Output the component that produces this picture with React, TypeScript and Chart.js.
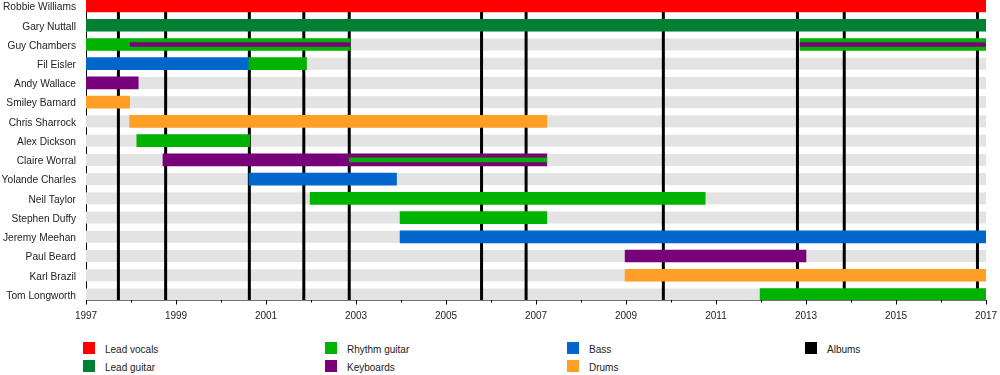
import React, { useEffect, useRef } from 'react';
import { Chart, registerables } from 'chart.js';

Chart.register(...registerables);

const FONT = '"Liberation Sans", Arial, sans-serif';

// Band members (top to bottom)
const members: string[] = [
  'Robbie Williams', 'Gary Nuttall', 'Guy Chambers', 'Fil Eisler', 'Andy Wallace',
  'Smiley Barnard', 'Chris Sharrock', 'Alex Dickson', 'Claire Worral', 'Yolande Charles',
  'Neil Taylor', 'Stephen Duffy', 'Jeremy Meehan', 'Paul Beard', 'Karl Brazil', 'Tom Longworth',
];

// Spans per role: [member, from, to]
type Span = [string, number, number];
const leadVocals: Span[] = [['Robbie Williams', 1997, 2017]];
const leadGuitar: Span[] = [['Gary Nuttall', 1997, 2017]];
const rhythmGuitar: Span[] = [
  ['Guy Chambers', 1997, 2002.87], ['Guy Chambers', 2012.87, 2017],
  ['Fil Eisler', 2000.62, 2001.9], ['Alex Dickson', 1998.13, 2000.64],
  ['Neil Taylor', 2001.98, 2010.76], ['Stephen Duffy', 2003.98, 2007.24],
  ['Tom Longworth', 2011.98, 2017],
];
const keyboards: Span[] = [
  ['Andy Wallace', 1997, 1998.16], ['Claire Worral', 1998.71, 2007.24], ['Paul Beard', 2008.98, 2013.0],
];
const bass: Span[] = [
  ['Fil Eisler', 1997, 2000.62], ['Yolande Charles', 2000.62, 2003.9], ['Jeremy Meehan', 2003.98, 2017],
];
const drums: Span[] = [
  ['Smiley Barnard', 1997, 1997.97], ['Chris Sharrock', 1997.97, 2007.24], ['Karl Brazil', 2008.98, 2017],
];
// Secondary roles (thin inner bars)
const keyboardsSecondary: Span[] = [['Guy Chambers', 1997.98, 2002.87], ['Guy Chambers', 2012.87, 2017]];
const rhythmGuitarSecondary: Span[] = [['Claire Worral', 2002.85, 2007.24]];

// Album release dates
const albums: number[] = [1997.72, 1998.77, 2000.63, 2001.84, 2002.85, 2005.79, 2006.78, 2009.83, 2012.81, 2013.85, 2016.81];

// Axis ticks
const yearTicks: number[] = [1997, 1998, 1999, 2000, 2001, 2002, 2003, 2004, 2005, 2006, 2007, 2008, 2009, 2010, 2011, 2012, 2013, 2014, 2015, 2016, 2017];
const yearLabels: number[] = [1997, 1999, 2001, 2003, 2005, 2007, 2009, 2011, 2013, 2015, 2017];

const COLORS = {
  leadVocals: '#ff0000',
  leadGuitar: '#008033',
  rhythmGuitar: '#00b300',
  keyboards: '#780078',
  bass: '#0066cc',
  drums: '#ff9f26',
  albums: '#000000',
  stripe: '#e3e3e3',
};

const legendItems: { label: string; color: string; col: number; row: number }[] = [
  { label: 'Lead vocals', color: COLORS.leadVocals, col: 0, row: 0 },
  { label: 'Lead guitar', color: COLORS.leadGuitar, col: 0, row: 1 },
  { label: 'Rhythm guitar', color: COLORS.rhythmGuitar, col: 1, row: 0 },
  { label: 'Keyboards', color: COLORS.keyboards, col: 1, row: 1 },
  { label: 'Bass', color: COLORS.bass, col: 2, row: 0 },
  { label: 'Drums', color: COLORS.drums, col: 2, row: 1 },
  { label: 'Albums', color: COLORS.albums, col: 3, row: 0 },
];

const toPoints = (spans: Span[]) => spans.map(([m, a, b]) => ({ x: [a, b], y: members.indexOf(m) }));

const backgroundPlugin = {
  id: 'bgStripesAlbums',
  beforeDatasetsDraw(chart: any) {
    const { ctx, chartArea, scales } = chart;
    const xs = scales.x;
    const ys = scales.y;
    ctx.save();
    ctx.fillStyle = COLORS.stripe;
    members.forEach((_, i) => {
      const yc = ys.getPixelForValue(i);
      ctx.fillRect(chartArea.left, yc - 6, chartArea.right - chartArea.left, 12);
    });
    ctx.strokeStyle = COLORS.albums;
    ctx.lineWidth = 3;
    albums.forEach((a) => {
      const x = xs.getPixelForValue(a);
      ctx.beginPath();
      ctx.moveTo(x, chartArea.top);
      ctx.lineTo(x, chartArea.bottom);
      ctx.stroke();
    });
    ctx.restore();
  },
  afterDraw(chart: any) {
    const { ctx, chartArea, scales } = chart;
    const xs = scales.x;
    ctx.save();
    ctx.strokeStyle = '#000';
    ctx.lineWidth = 1;
    yearTicks.forEach((t) => {
      const x = Math.round(xs.getPixelForValue(t)) + 0.5;
      const len = yearLabels.includes(t) ? 4 : 2;
      ctx.beginPath();
      ctx.moveTo(x, chartArea.bottom);
      ctx.lineTo(x, chartArea.bottom + len + 0.5);
      ctx.stroke();
    });
    ctx.restore();
  },
};

export default function App() {
  const canvasRef = useRef<HTMLCanvasElement | null>(null);

  useEffect(() => {
    if (!canvasRef.current) return;
    const bar = (data: Span[], color: string, thickness: number) => ({
      data: toPoints(data),
      backgroundColor: color,
      borderWidth: 0,
      barThickness: thickness,
      grouped: false,
    });
    const chart = new Chart(canvasRef.current, {
      type: 'bar',
      data: {
        datasets: [
          { label: 'Keyboards (secondary)', ...bar(keyboardsSecondary, COLORS.keyboards, 4) },
          { label: 'Rhythm guitar (secondary)', ...bar(rhythmGuitarSecondary, COLORS.rhythmGuitar, 4) },
          { label: 'Lead vocals', ...bar(leadVocals, COLORS.leadVocals, 12) },
          { label: 'Lead guitar', ...bar(leadGuitar, COLORS.leadGuitar, 12) },
          { label: 'Rhythm guitar', ...bar(rhythmGuitar, COLORS.rhythmGuitar, 12) },
          { label: 'Keyboards', ...bar(keyboards, COLORS.keyboards, 12) },
          { label: 'Bass', ...bar(bass, COLORS.bass, 12) },
          { label: 'Drums', ...bar(drums, COLORS.drums, 12) },
        ] as any,
      },
      options: {
        indexAxis: 'y',
        animation: false,
        responsive: true,
        maintainAspectRatio: false,
        devicePixelRatio: 1,
        layout: { padding: { left: 0, right: 14, top: 0, bottom: 0 } },
        plugins: { legend: { display: false }, tooltip: { enabled: false } },
        scales: {
          x: {
            type: 'linear',
            min: 1997,
            max: 2017,
            offset: false,
            afterBuildTicks: (s: any) => { s.ticks = yearTicks.map((v) => ({ value: v })); },
            ticks: {
              autoSkip: false,
              maxRotation: 0,
              padding: 10,
              color: '#222',
              font: { family: FONT, size: 10 },
              callback: (v: any) => (yearLabels.includes(Number(v)) ? String(v) : ''),
            },
            grid: { drawOnChartArea: false, drawTicks: false, offset: false },
            border: { display: true, color: '#000', width: 1 },
            afterFit: (s: any) => { s.height = 25; s.paddingLeft = 0; s.paddingRight = 0; },
          },
          y: {
            type: 'linear',
            reverse: true,
            offset: false,
            min: -0.312,
            max: 15.286,
            afterBuildTicks: (s: any) => { s.ticks = members.map((_, i) => ({ value: i })); },
            ticks: {
              autoSkip: false,
              padding: 10,
              labelOffset: 1.5,
              color: '#222',
              font: { family: FONT, size: 10.2 },
              callback: (v: any) => members[Number(v)] ?? '',
            },
            grid: { drawOnChartArea: false, drawTicks: false, offset: false },
            border: { display: true, color: '#000', width: 1 },
            afterFit: (s: any) => { s.width = 86; s.paddingTop = 0; s.paddingBottom = 0; },
          },
        },
      } as any,
      plugins: [backgroundPlugin],
    });
    return () => chart.destroy();
  }, []);

  const colX = [83, 325, 567, 805];
  const rowY = [342, 360];

  return (
    <div style={{ position: 'absolute', left: 0, top: 0, width: 1000, height: 375, background: '#fff', fontFamily: FONT }}>
      <div style={{ position: 'absolute', left: 0, top: 0, width: 1000, height: 325 }}>
        <canvas ref={canvasRef} />
      </div>
      {legendItems.map((it) => (
        <div key={it.label} style={{ position: 'absolute', left: colX[it.col], top: rowY[it.row], height: 12, display: 'flex', alignItems: 'center' }}>
          <div style={{ width: 12, height: 12, background: it.color }} />
          <span style={{ marginLeft: 10, fontSize: 10, color: '#222', lineHeight: '12px', whiteSpace: 'nowrap', position: 'relative', top: 2 }}>{it.label}</span>
        </div>
      ))}
    </div>
  );
}
